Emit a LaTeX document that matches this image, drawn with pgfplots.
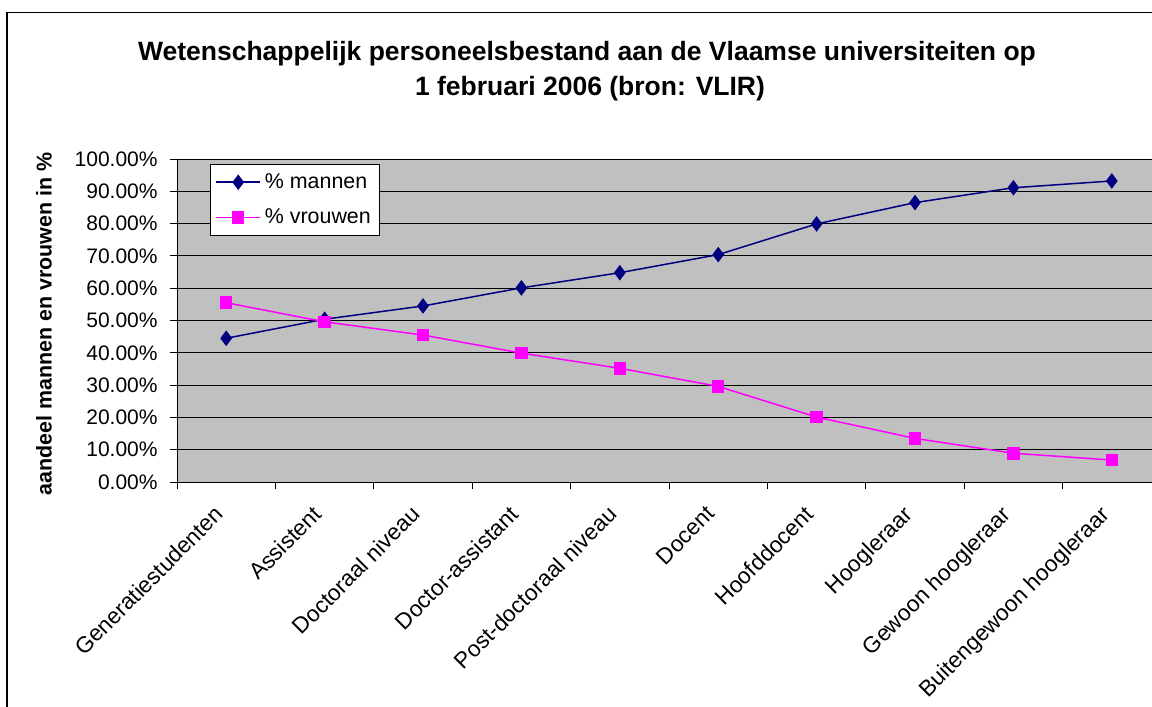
\documentclass[border=0pt]{standalone}
\usepackage{fontspec}
\setmainfont{Liberation Sans}
\usepackage{pgfplots}
\pgfplotsset{compat=1.18}
\definecolor{plotgray}{HTML}{C0C0C0}
\definecolor{navyc}{HTML}{000080}
\definecolor{magc}{HTML}{FF00FF}
\begin{document}
\begin{tikzpicture}
\draw[line width=0.75pt] (3.5pt,-360pt) -- (3.5pt,-6.25pt) -- (600pt,-6.25pt);
\node[font=\bfseries\fontsize{13.25}{15}\selectfont, anchor=base] at (293.5pt,-30pt) {Wetenschappelijk personeelsbestand aan de Vlaamse universiteiten op};
\node[font=\bfseries\fontsize{13.25}{15}\selectfont, anchor=base] at (295pt,-47.5pt) {1 februari 2006 (bron: VLIR)};
\node[font=\bfseries\fontsize{10.7}{12}\selectfont, rotate=90] at (22pt,-162pt) {aandeel mannen en vrouwen in \%};
\begin{axis}[
  at={(88.5pt,-241pt)}, anchor=south west,
  scale only axis, width=492pt, height=161.5pt,
  xmin=-0.5, xmax=9.5, ymin=0, ymax=100,
  axis background/.style={fill=plotgray},
  axis line style={black, line width=0.5pt},
  tick pos=left, tick align=outside,
  ytick={0,10,...,100},
  major tick length=3.5pt, minor tick length=3.5pt,
  /pgf/number format/assume math mode=true,
  yticklabel={\pgfmathprintnumber[fixed,fixed zerofill,precision=2]{\tick}\%},
  yticklabel style={font=\fontsize{10.5}{11}\selectfont, inner sep=0pt, xshift=-6pt},
  ymajorgrids, major grid style={black, line width=0.5pt},
  xtick={0,...,9},
  minor xtick={-0.5,0.5,...,9.5},
  major x tick style={draw=none},
  minor x tick style={black, line width=0.5pt},
  y tick style={black, line width=0.5pt},
  xticklabels={Generatiestudenten,Assistent,Doctoraal niveau,Doctor-assistant,Post-doctoraal niveau,Docent,Hoofddocent,Hoogleraar,Gewoon hoogleraar,Buitengewoon hoogleraar},
  xticklabel style={font=\fontsize{11.3}{12}\selectfont, xshift=-6.5pt, yshift=-7.4pt, rotate=45, anchor=north east, inner sep=0pt},
  legend style={at={(0.0335,0.9845)}, anchor=north west, draw=black, fill=white, font=\fontsize{10.7}{12}\selectfont, inner xsep=2.5pt, inner ysep=2.4pt, row sep=4.8pt, line width=0.5pt},
  legend cell align=left,
  legend image code/.code={\draw[mark repeat=2,mark phase=2,#1] plot coordinates {(0pt,0pt) (11pt,0pt) (22pt,0pt)};},
]
\addplot[color=navyc, line width=0.75pt, mark=diamond*, mark size=3.3pt, mark options={solid, fill=navyc}] coordinates {
(0,44.5) (1,50.4) (2,54.5) (3,60.1) (4,64.8) (5,70.4) (6,79.9) (7,86.5) (8,91.1) (9,93.2)};
\addlegendentry{\% mannen}
\addplot[color=magc, line width=0.75pt, mark=square*, mark size=2.75pt, mark options={solid, fill=magc}] coordinates {
(0,55.5) (1,49.6) (2,45.5) (3,39.9) (4,35.2) (5,29.6) (6,20.1) (7,13.5) (8,8.9) (9,6.8)};
\addlegendentry{\% vrouwen}
\end{axis}
\pgfresetboundingbox
\useasboundingbox (0,0) rectangle (576pt,-353.5pt);
\end{tikzpicture}
\end{document}
